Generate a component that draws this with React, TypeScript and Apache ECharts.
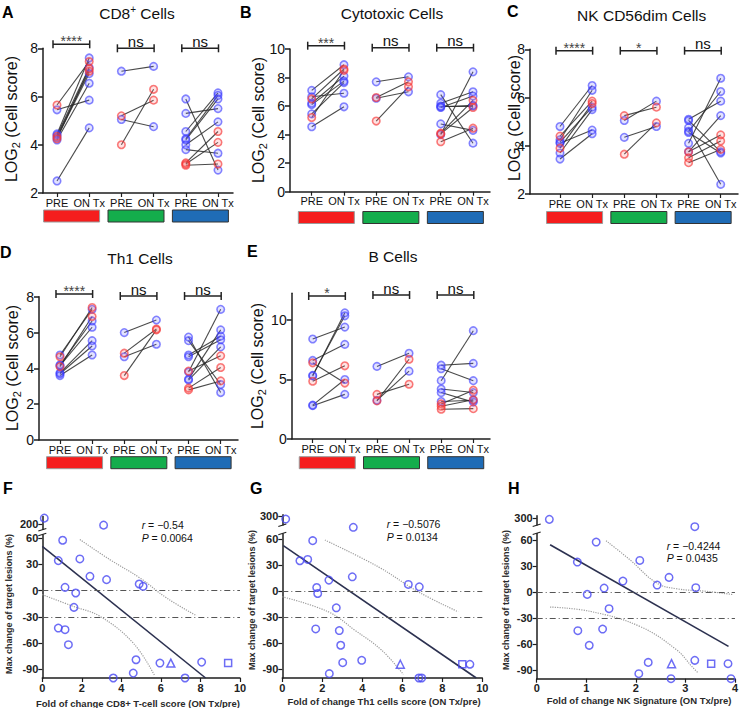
import React, { useEffect, useRef } from "react";
import * as echarts from "echarts";

const FONT = '"Liberation Sans", Arial, Helvetica, sans-serif';

// ---------------- DATA ----------------
// paired values per patient: [PRE, ON Tx, colour flag (0 = blue, 1 = red)]
const tickNames = ["PRE", "ON Tx"];

const cd8Group1 = [[5.65, 7.45, 1], [5.45, 5.85, 0], [4.45, 7.6, 0], [4.4, 7.2, 0], [4.35, 7.05, 1], [4.3, 6.95, 0], [4.25, 7.15, 1], [4.2, 6.55, 0], [2.5, 4.7, 0]];
const cd8Group2 = [[7.05, 7.25, 0], [5.2, 5.85, 1], [5.05, 4.75, 0], [4.0, 6.3, 1]];
const cd8Group3 = [[5.9, 2.95, 0], [5.3, 5.5, 0], [4.55, 6.15, 0], [4.25, 6.05, 0], [4.2, 5.9, 0], [4.0, 4.95, 0], [3.8, 3.65, 0], [3.25, 4.55, 1], [3.2, 4.1, 1], [3.15, 3.2, 1]];
const cd8Sig = ["****", "ns", "ns"];

const cytoGroup1 = [[7.1, 8.9, 0], [6.65, 6.9, 0], [6.5, 8.6, 1], [6.2, 8.1, 0], [6.1, 7.75, 0], [5.45, 7.65, 0], [5.2, 8.5, 1], [4.55, 5.95, 0]];
const cytoGroup2 = [[7.7, 8.05, 0], [6.6, 7.7, 1], [6.55, 7.0, 0], [4.95, 7.35, 1]];
const cytoGroup3 = [[6.8, 3.4, 0], [6.2, 7.0, 0], [6.0, 6.0, 0], [5.95, 6.05, 0], [5.9, 6.7, 0], [4.75, 4.3, 0], [4.1, 6.4, 1], [4.05, 5.9, 1], [4.0, 8.4, 0], [3.5, 4.45, 1]];
const cytoSig = ["***", "ns", "ns"];

const nkGroup1 = [[4.8, 6.5, 0], [4.4, 5.85, 1], [4.25, 6.3, 0], [4.15, 5.6, 0], [4.1, 4.65, 0], [3.9, 5.75, 1], [3.7, 5.5, 0], [3.45, 4.5, 0]];
const nkGroup2 = [[5.25, 5.6, 1], [5.05, 5.85, 0], [4.35, 4.8, 0], [3.65, 4.95, 1]];
const nkGroup3 = [[5.1, 5.85, 0], [5.05, 3.75, 0], [4.75, 2.4, 0], [4.6, 6.25, 0], [4.55, 3.7, 0], [4.1, 6.8, 0], [3.75, 4.45, 1], [3.75, 5.25, 0], [3.5, 4.2, 1], [3.3, 3.85, 1]];
const nkSig = ["****", "*", "ns"];

const th1Group1 = [[4.75, 7.3, 0], [4.65, 7.4, 1], [4.2, 6.65, 0], [4.15, 6.3, 0], [4.1, 6.9, 1], [3.75, 5.55, 0], [3.7, 5.25, 0], [3.6, 4.75, 0]];
const th1Group2 = [[6.0, 6.7, 0], [4.85, 6.2, 1], [4.65, 5.35, 0], [3.6, 6.15, 1]];
const th1Group3 = [[5.75, 2.65, 0], [5.55, 3.1, 0], [4.75, 5.8, 0], [4.65, 5.6, 0], [3.85, 4.7, 1], [3.8, 7.3, 0], [3.4, 6.15, 0], [3.35, 5.2, 0], [2.9, 4.05, 1], [2.8, 3.3, 1]];
const th1Sig = ["****", "ns", "ns"];

const bGroup1 = [[8.4, 9.4, 0], [6.6, 7.95, 0], [6.4, 4.7, 1], [5.3, 10.6, 0], [5.35, 10.35, 0], [4.85, 6.15, 1], [2.85, 5.0, 0], [2.8, 3.75, 0]];
const bGroup2 = [[6.1, 7.2, 0], [3.75, 4.6, 1], [3.2, 6.7, 1], [3.25, 5.7, 0]];
const bGroup3 = [[6.2, 6.35, 0], [5.9, 4.9, 0], [4.9, 9.1, 0], [4.2, 3.9, 0], [3.9, 3.1, 0], [3.15, 3.25, 0], [2.95, 4.1, 1], [2.75, 3.3, 1], [2.5, 2.55, 1]];
const bSig = ["*", "ns", "ns"];

// correlation panels: [fold of change, max change of target lesions (%)]
const cd8Circles = [[0.1, 235], [3.1, 195], [1.03, 57.7], [0.81, 34.4], [1.9, 36.3], [2.41, 16.4], [3.25, 12.6], [1.15, 3.8], [1.69, -2.7], [1.6, -19.1], [4.9, 7.6], [5.1, 5.0], [0.81, -42.8], [1.15, -44.7], [1.32, -61.9], [4.74, -79.1], [5.95, -82.9], [8.06, -81.8], [4.6, -94.4], [3.59, -100], [7.22, -100]];
const cd8Triangle = [[6.5, -82.9]];
const cd8Square = [[9.4, -82.9]];
const cd8Fit = [[0, 50.8], [8.26, -100]];
const cd8Upper = [[1.9, 58.5], [3.42, 35.5], [4.94, 14.5], [6.29, -8.4], [7.8, -28.7]];
const cd8Lower = [[0, -4.6], [1.57, -18], [2.92, -29.4], [4.6, -60], [5.7, -98]];
const cd8Stats = ["\u22120.54", "0.0064"];

const th1Circles = [[0.17, 270], [3.55, 175], [1.52, 58.1], [0.88, 35], [1.27, 36.5], [3.5, 16.5], [2.33, 12.7], [1.72, 4.2], [1.77, -2.7], [6.3, 7.7], [6.85, 5], [2.7, -19.2], [1.67, -43.5], [2.85, -45.4], [2.92, -62.3], [3.97, -79.6], [3.02, -82.3], [9.38, -84.2], [2.35, -95], [6.83, -100], [6.97, -100]];
const th1Triangle = [[5.9, -84.2]];
const th1Square = [[9.0, -84.2]];
const th1Fit = [[0.05, 52.3], [9.7, -100]];
const th1Upper = [[2.13, 58.8], [4.8, 28], [6.8, -0.8], [8.8, -23.8]];
const th1Lower = [[0, -6.5], [2.3, -23.8], [3.63, -45], [4.97, -68], [6.05, -95.8]];
const th1Stats = ["\u22120.5076", "0.0134"];

const nkCircles = [[0.255, 289], [3.19, 204], [1.2, 57.7], [0.82, 34.6], [2.08, 36.5], [2.67, 16.9], [1.74, 12.7], [2.43, 8.1], [3.21, 5.0], [1.36, 4.6], [1.02, -2.7], [1.46, -19.2], [0.83, -44.6], [1.33, -42.7], [1.06, -61.5], [2.25, -81.2], [3.19, -78.8], [3.86, -82.7], [2.06, -94.2], [2.71, -100], [3.92, -100]];
const nkTriangle = [[2.72, -82.7]];
const nkSquare = [[3.52, -82.7]];
const nkFit = [[0.27, 54.6], [3.87, -62.7]];
const nkUpper = [[1.4, 59.2], [1.88, 37.3], [2.42, 10.4], [2.82, 3.8], [3.43, 0.8], [3.97, -3]];
const nkLower = [[0.27, -17.3], [1.08, -22.3], [2.08, -39.6], [2.82, -66.5], [3.13, -85.8], [3.26, -93.5]];
const nkStats = ["\u22120.4244", "0.0435"];

const bottomYTicks = [-90, -60, -30, 0, 30, 60];

// ---------------- LAYOUT ----------------
const topPanels = [
  { letter: "A", title: "{t|CD8}{s|+}{t| Cells}", groups: [cd8Group1, cd8Group2, cd8Group3], sig: cd8Sig,
    L: { left: 43, top: 48.3, width: 190, height: 144.7, xMin: 0.565, xMax: 6.466, yMin: 2, yMax: 8, yTicks: [2, 4, 6, 8], bracketY: [44.3, 48.3, 48.3], barY: 210, letterXY: [2, 12.5], titleXY: [137, 13.7], nameXY: [11, 119] } },
  { letter: "B", title: "{t|Cytotoxic Cells}", groups: [cytoGroup1, cytoGroup2, cytoGroup3], sig: cytoSig,
    L: { left: 290, top: 49, width: 200, height: 142.7, xMin: 0.327, xMax: 6.527, yMin: 0, yMax: 10, yTicks: [0, 2, 4, 6, 8, 10], bracketY: [45.7, 47.7, 47.7], barY: 211.5, letterXY: [240, 12.5], titleXY: [392, 13.5], nameXY: [258, 120] } },
  { letter: "C", title: "{t|NK CD56dim Cells}", groups: [nkGroup1, nkGroup2, nkGroup3], sig: nkSig,
    L: { left: 530, top: 49.3, width: 208, height: 144.7, xMin: 0.0666, xMax: 6.538, yMin: 2, yMax: 8, yTicks: [2, 4, 6, 8], bracketY: [50.7, 50.7, 50.7], barY: 211.5, letterXY: [507, 11], titleXY: [641.7, 15], nameXY: [514.5, 118] } },
  { letter: "D", title: "{t|Th1 Cells}", groups: [th1Group1, th1Group2, th1Group3], sig: th1Sig,
    L: { left: 39, top: 296.8, width: 199, height: 143.2, xMin: 0.347, xMax: 6.539, yMin: 0, yMax: 8, yTicks: [0, 2, 4, 6, 8], bracketY: [294, 296, 296], barY: 456.7, letterXY: [0, 252], titleXY: [140, 258.5], nameXY: [12.5, 368] } },
  { letter: "E", title: "{t|B Cells}", groups: [bGroup1, bGroup2, bGroup3], sig: bSig,
    L: { left: 291.7, top: 293.3, width: 198.3, height: 145.7, xMin: 0.346, xMax: 6.52, yMin: 0, yMax: 12.24, yTicks: [0, 5, 10], bracketY: [296, 295, 295], barY: 456.7, letterXY: [247, 251], titleXY: [393, 256.5], nameXY: [257.5, 366] } },
];

const bottomPanels = [
  { letter: "F", xName: "Fold of change CD8+ T-cell score (ON Tx/pre)", circles: cd8Circles, tri: cd8Triangle, sq: cd8Square, fit: cd8Fit, upper: cd8Upper, lower: cd8Lower, stats: cd8Stats, topLabel: "200",
    L: { left: 42.3, width: 197.7, top: 516.4, height: 161.6, xMax: 10, xInterval: 2, yMax: 85, topDisp: 76, topBase: 200, topK: 0.2, letterXY: [3, 488.5], xNameXY: [138, 703], yNameXY: [9, 604], statsXY: [141.7, 525, 537.7], breakY: [529.5, 534.8] } },
  { letter: "G", xName: "Fold of change Th1 cells score (ON Tx/pre)", circles: th1Circles, tri: th1Triangle, sq: th1Square, fit: th1Fit, upper: th1Upper, lower: th1Lower, stats: th1Stats, topLabel: "300",
    L: { left: 282.3, width: 200, top: 514.7, height: 163.3, xMax: 10, xInterval: 2, yMax: 88, topDisp: 86, topBase: 300, topK: 0.1, letterXY: [250, 488.5], xNameXY: [384, 701.7], yNameXY: [251.5, 600], statsXY: [386.7, 524.3, 536.7], breakY: [525, 533.8] } },
  { letter: "H", xName: "Fold of change NK Signature (ON Tx/pre)", circles: nkCircles, tri: nkTriangle, sq: nkSquare, fit: nkFit, upper: nkUpper, lower: nkLower, stats: nkStats, topLabel: "300",
    L: { left: 536.7, width: 198.4, top: 515.8, height: 162.9, xMax: 4, xInterval: 1, yMax: 88, topDisp: 85, topBase: 300, topK: 0.1, letterXY: [508, 488.5], xNameXY: [639, 700], yNameXY: [506, 600], statsXY: [666.7, 546, 557.5], breakY: [525, 533.5] } },
];

const barColors = [
  { fill: "#f51d1d", stroke: "#9a9a9a" },
  { fill: "#14ad4c", stroke: "#333333" },
  { fill: "#1f6cb6", stroke: "#333333" },
];

function buildOption() {
  const grid: any[] = [];
  const xAxis: any[] = [];
  const yAxis: any[] = [];
  const series: any[] = [];
  const graphic: any[] = [];
  const axisCol = "#1e1e1e";

  const letter = (t: string, xy: number[]) => ({
    type: "text", x: xy[0], y: xy[1], z: 50,
    style: { text: t, fontFamily: FONT, fontSize: 16, fontWeight: "bold", fill: "#000", align: "left", verticalAlign: "middle" },
  });

  topPanels.forEach((p, i) => {
    const L = p.L;
    grid.push({ left: L.left, top: L.top, width: L.width, height: L.height });
    const xVals = [1, 2, 3, 4, 5, 6];
    xAxis.push({
      gridIndex: i, type: "value", min: L.xMin, max: L.xMax,
      axisLine: { show: true, onZero: false, lineStyle: { color: axisCol, width: 1.5 } },
      axisTick: { show: true, customValues: xVals, length: 4, lineStyle: { color: axisCol, width: 1.2 } },
      axisLabel: { customValues: xVals, formatter: (v: number) => tickNames[(Math.round(v) + 1) % 2], fontFamily: FONT, fontSize: 11, color: "#111", margin: 4 },
      splitLine: { show: false },
    });
    yAxis.push({
      gridIndex: i, type: "value", min: L.yMin, max: L.yMax,
      axisLine: { show: true, onZero: false, lineStyle: { color: axisCol, width: 1.5 } },
      axisTick: { show: true, customValues: L.yTicks, length: 5, lineStyle: { color: axisCol, width: 1.5 } },
      axisLabel: { customValues: L.yTicks, fontFamily: FONT, fontSize: 14, color: "#111", margin: 5 },
      splitLine: { show: false },
    });
    const lineData: any[] = [];
    const blue: number[][] = [];
    const red: number[][] = [];
    p.groups.forEach((g, gi) => {
      const xPre = 2 * gi + 1;
      const xOn = 2 * gi + 2;
      g.forEach(([a, b, c]) => {
        lineData.push({ coords: [[xPre, a], [xOn, b]] });
        (c ? red : blue).push([xPre, a], [xOn, b]);
      });
    });
    series.push({
      type: "lines", coordinateSystem: "cartesian2d", xAxisIndex: i, yAxisIndex: i, polyline: false, silent: true, z: 2,
      lineStyle: { color: "#2a2a2a", width: 1.1, opacity: 0.85 }, data: lineData,
    });
    series.push({
      type: "scatter", xAxisIndex: i, yAxisIndex: i, symbol: "circle", symbolSize: 7.5, z: 3, silent: true,
      itemStyle: { color: "rgba(110,110,255,0.25)", borderColor: "rgba(55,55,255,0.75)", borderWidth: 1.6 }, data: blue,
    });
    series.push({
      type: "scatter", xAxisIndex: i, yAxisIndex: i, symbol: "circle", symbolSize: 7.5, z: 4, silent: true,
      itemStyle: { color: "rgba(255,110,110,0.25)", borderColor: "rgba(245,50,50,0.8)", borderWidth: 1.6 }, data: red,
    });

    const px = (v: number) => L.left + ((v - L.xMin) / (L.xMax - L.xMin)) * L.width;
    // significance brackets and group bars
    for (let g = 0; g < 3; g++) {
      const x1 = px(2 * g + 1) - 4;
      const x2 = px(2 * g + 2) + 0.5;
      const by = L.bracketY[g];
      const lw = 1.5;
      graphic.push({ type: "line", z: 20, shape: { x1, y1: by, x2, y2: by }, style: { stroke: "#222", lineWidth: lw } });
      graphic.push({ type: "line", z: 20, shape: { x1, y1: by - 4, x2: x1, y2: by + 4 }, style: { stroke: "#222", lineWidth: lw } });
      graphic.push({ type: "line", z: 20, shape: { x1: x2, y1: by - 4, x2, y2: by + 4 }, style: { stroke: "#222", lineWidth: lw } });
      const s = p.sig[g];
      const isNs = s === "ns";
      graphic.push({
        type: "text", z: 21, x: (x1 + x2) / 2, y: isNs ? by + 0.5 : by - 3,
        style: { text: s, fontFamily: FONT, fontSize: isNs ? 15 : 14, fill: isNs ? "#111" : "#444", align: "center", verticalAlign: isNs ? "bottom" : "middle" },
      });
      const cc = (px(2 * g + 1) + px(2 * g + 2)) / 2 - 1.5;
      graphic.push({
        type: "rect", z: 20, shape: { x: cc - 28, y: L.barY, width: 56, height: 12 },
        style: { fill: barColors[g].fill, stroke: barColors[g].stroke, lineWidth: 1 },
      });
    }
    graphic.push(letter(p.letter, L.letterXY));
    graphic.push({
      type: "text", z: 30, x: L.titleXY[0], y: L.titleXY[1],
      style: {
        text: p.title, align: "center", verticalAlign: "middle",
        rich: {
          t: { fontFamily: FONT, fontSize: 15.5, fill: "#111", color: "#111", lineHeight: 18 },
          s: { fontFamily: FONT, fontSize: 10, fill: "#111", color: "#111", lineHeight: 10, verticalAlign: "top" },
        },
      },
    });
    graphic.push({
      type: "text", z: 30, x: L.nameXY[0], y: L.nameXY[1], rotation: Math.PI / 2,
      style: {
        text: "{a|LOG}{s|2}{a| (Cell score)}", align: "center", verticalAlign: "middle",
        rich: {
          a: { fontFamily: FONT, fontSize: 16, fill: "#111", color: "#111", lineHeight: 20 },
          s: { fontFamily: FONT, fontSize: 11, fill: "#111", color: "#111", lineHeight: 11, verticalAlign: "bottom" },
        },
      },
    });
  });

  bottomPanels.forEach((p, j) => {
    const L = p.L;
    const i = topPanels.length + j;
    const disp = (v: number) => (v > 65 ? L.topDisp + (v - L.topBase) * L.topK : v);
    const toDisp = (arr: number[][]) => arr.map(([x, y]) => [x, disp(y)]);
    grid.push({ left: L.left, top: L.top, width: L.width, height: L.height });
    xAxis.push({
      gridIndex: i, type: "value", min: 0, max: L.xMax, interval: L.xInterval,
      axisLine: { show: true, onZero: false, lineStyle: { color: axisCol, width: 1.5 } },
      axisTick: { show: true, length: 4, lineStyle: { color: axisCol, width: 1.2 } },
      axisLabel: { fontFamily: FONT, fontSize: 11, fontWeight: "bold", color: "#222", margin: 4 },
      splitLine: { show: false },
    });
    const yT = [...bottomYTicks, L.topDisp];
    yAxis.push({
      gridIndex: i, type: "value", min: -100, max: L.yMax,
      axisLine: { show: true, onZero: false, lineStyle: { color: axisCol, width: 1.5 } },
      axisTick: { show: true, customValues: yT, length: 4, lineStyle: { color: axisCol, width: 1.2 } },
      axisLabel: {
        customValues: yT, fontFamily: FONT, fontSize: 11, fontWeight: "bold", color: "#222", margin: 4,
        formatter: (v: number) => (Math.abs(v - L.topDisp) < 0.01 ? p.topLabel : String(Math.round(v))),
      },
      splitLine: { show: false },
    });
    const mk = { color: "rgba(255,255,255,0)", borderColor: "#4848f2", borderWidth: 1.5 };
    series.push({ type: "scatter", xAxisIndex: i, yAxisIndex: i, symbol: "circle", symbolSize: 7.5, itemStyle: mk, data: toDisp(p.circles), silent: true, z: 5 });
    series.push({ type: "scatter", xAxisIndex: i, yAxisIndex: i, symbol: "triangle", symbolSize: 8, itemStyle: mk, data: toDisp(p.tri), silent: true, z: 5 });
    series.push({ type: "scatter", xAxisIndex: i, yAxisIndex: i, symbol: "rect", symbolSize: 7, itemStyle: mk, data: toDisp(p.sq), silent: true, z: 5 });
    series.push({
      type: "line", xAxisIndex: i, yAxisIndex: i, data: p.fit, showSymbol: false, silent: true, z: 4,
      lineStyle: { color: "#2c3150", width: 1.6 },
      markLine: {
        silent: true, symbol: ["none", "none"], label: { show: false },
        lineStyle: { color: "#555", type: [6, 3, 1, 3], width: 1 },
        data: [{ yAxis: 0 }, { yAxis: -30 }],
      },
    });
    [p.upper, p.lower].forEach((band) => {
      series.push({
        type: "line", xAxisIndex: i, yAxisIndex: i, data: band, smooth: 0.4, showSymbol: false, silent: true, z: 3,
        lineStyle: { color: "#9c9c9c", width: 1.2, type: "dotted" },
      });
    });
    // axis break mark
    const ax = L.left;
    graphic.push({ type: "rect", z: 40, shape: { x: ax - 3, y: L.breakY[0] + 0.5, width: 6, height: L.breakY[1] - L.breakY[0] - 1 }, style: { fill: "#fff" } });
    graphic.push({ type: "line", z: 41, shape: { x1: ax - 4, y1: L.breakY[0] + 1.5, x2: ax + 4, y2: L.breakY[0] - 1 }, style: { stroke: "#222", lineWidth: 1.2 } });
    graphic.push({ type: "line", z: 41, shape: { x1: ax - 4, y1: L.breakY[1] + 1, x2: ax + 4, y2: L.breakY[1] - 1.5 }, style: { stroke: "#222", lineWidth: 1.2 } });

    graphic.push(letter(p.letter, L.letterXY));
    graphic.push({
      type: "text", z: 30, x: L.xNameXY[0], y: L.xNameXY[1],
      style: { text: p.xName, fontFamily: FONT, fontSize: 9.5, fontWeight: "bold", fill: "#2a2a2a", align: "center", verticalAlign: "middle" },
    });
    graphic.push({
      type: "text", z: 30, x: L.yNameXY[0], y: L.yNameXY[1], rotation: Math.PI / 2,
      style: { text: "Max change of target lesions (%)", fontFamily: FONT, fontSize: 9, fontWeight: "bold", fill: "#2a2a2a", align: "center", verticalAlign: "middle" },
    });
    const richStat = {
      i: { fontFamily: FONT, fontSize: 10.5, fontStyle: "italic", fill: "#111", color: "#111", lineHeight: 10 },
      n: { fontFamily: FONT, fontSize: 10.5, fill: "#111", color: "#111", lineHeight: 10 },
    };
    graphic.push({
      type: "text", z: 30, x: L.statsXY[0], y: L.statsXY[1],
      style: { text: `{i|r}{n| = ${p.stats[0]}}`, align: "left", verticalAlign: "middle", rich: richStat },
    });
    graphic.push({
      type: "text", z: 30, x: L.statsXY[0], y: L.statsXY[2],
      style: { text: `{i|P}{n| = ${p.stats[1]}}`, align: "left", verticalAlign: "middle", rich: richStat },
    });
  });

  return {
    animation: false,
    backgroundColor: "#ffffff",
    textStyle: { fontFamily: FONT },
    grid, xAxis, yAxis, series, graphic,
  };
}

export default function App() {
  const ref = useRef<HTMLDivElement>(null);
  useEffect(() => {
    if (!ref.current) return;
    const chart = echarts.init(ref.current, undefined, { renderer: "svg" });
    chart.setOption(buildOption() as any);
    return () => chart.dispose();
  }, []);
  return <div ref={ref} style={{ position: "absolute", left: 0, top: 0, width: 741, height: 708, background: "#fff" }} />;
}
